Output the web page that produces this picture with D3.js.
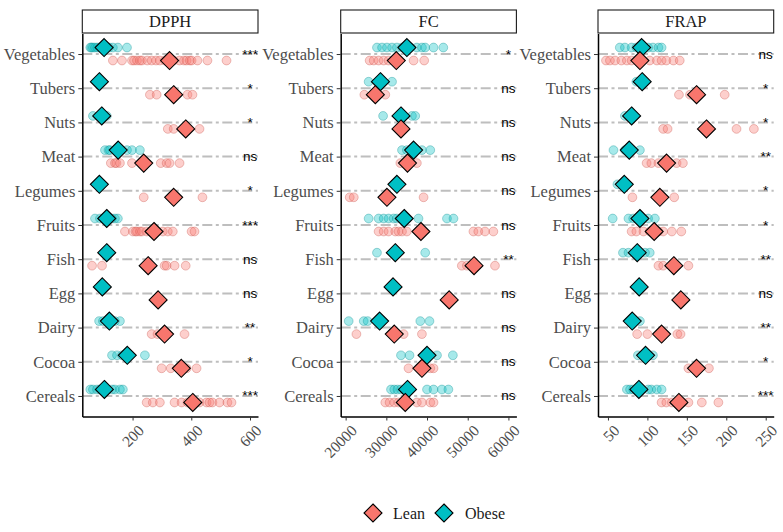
<!DOCTYPE html>
<html><head><meta charset="utf-8">
<script src="https://cdn.jsdelivr.net/npm/d3@7"></script>
<style>body{margin:0;background:#fff}</style>
</head><body><svg id="c" width="783" height="532"></svg>
<script>
// ---------------- data ----------------
const categories = ["Vegetables","Tubers","Nuts","Meat","Legumes","Fruits","Fish","Egg","Dairy","Cocoa","Cereals"];
const measures = ["DPPH","FC","FRAP"];
const groups = ["Lean","Obese"];

const dpphObese = [
  [56, 60, 65, 72, 80, 88, 95, 99, 120, 133, 150, 181],
  [80, 92],
  [65, 100, 112],
  [106, 118, 123, 140, 150, 181, 198, 225],
  [82, 90],
  [72, 89, 100, 113, 130, 140, 150],
  [105, 121],
  [96],
  [86, 99, 115, 125, 140, 157],
  [130, 147, 164, 242],
  [56, 65, 79, 89, 99, 113, 130, 140, 157, 167]
];
const dpphLean = [
  [133, 164, 198, 205, 215, 225, 232, 250, 265, 280, 293, 310, 340, 360, 375, 384, 395, 401, 421, 455, 520],
  [259, 282, 387, 404],
  [320, 340, 385, 428],
  [126, 140, 145, 157, 198, 296, 316, 326, 360],
  [238, 345, 438],
  [174, 201, 210, 215, 225, 232, 248, 260, 303, 320, 337, 401, 411],
  [62, 96, 309, 316, 343, 381],
  [286],
  [265, 285, 377],
  [299, 330, 384, 418],
  [248, 269, 293, 343, 367, 387, 428, 452, 462, 472, 496, 523, 537]
];
const dpphObeseMean = [103, 87, 95, 151, 87, 112, 112, 97, 121, 182, 104];
const dpphLeanMean  = [326, 340, 381, 238, 340, 273, 253, 287, 309, 366, 405];
const dpphSig = ["***","*","*","ns","*","***","ns","ns","**","*","***"];

const fcObese = [
  [27700, 28950, 30150, 31400, 32600, 33850, 36000, 37500, 38750, 39550, 41600, 44000],
  [25650, 31400],
  [29200, 36300, 37100],
  [33850, 35050, 38750, 40800],
  [32600],
  [25650, 28100, 29350, 30550, 31800, 32600, 33850, 37900, 44900, 46500],
  [27700, 39550],
  [31650],
  [20750, 24450, 25400, 38350, 40600],
  [33600, 35700, 42450, 46350],
  [31150, 31950, 32750, 33600, 40000, 41600, 43650, 45250]
];
const fcLean = [
  [25900, 26900, 28100, 29350, 30550, 32200, 36700, 39300],
  [24600, 29750],
  [33600],
  [33450, 37500],
  [21000, 22000, 39150],
  [28100, 29350, 30550, 32200, 33000, 33850, 35050, 51400, 52600, 54250, 56300],
  [48550, 49800, 56700],
  [45450],
  [22650, 34250, 38750],
  [35450, 40800, 41600],
  [29750, 30800, 31950, 33000, 37500, 38750, 40800, 41600]
];
const fcObeseMean = [35050, 28550, 33600, 36700, 32600, 34400, 32200, 31650, 28350, 40000, 35200];
const fcLeanMean  = [32450, 27300, 33600, 35200, 30150, 38500, 51550, 45450, 31950, 38750, 34650];
const fcSig = ["*","ns","ns","ns","ns","ns","**","ns","ns","ns","ns"];

const frapObese = [
  [65, 71.5, 80, 86, 92, 101, 107, 114, 118],
  [86, 93],
  [71.5, 80],
  [57, 71.5, 77, 90.5],
  [62, 71],
  [56, 76, 82, 88, 92, 101, 109.5],
  [69, 76, 87, 97, 103],
  [89.6],
  [81, 90.5],
  [88, 98, 107],
  [74, 78, 82, 89, 101, 105, 112, 118]
];
const frapLean = [
  [47.5, 52.5, 59, 67, 74, 80, 90, 103, 112, 118, 124, 133, 141],
  [140, 154, 198],
  [120, 125.6, 213, 235],
  [99, 105, 114, 125, 137, 145],
  [81, 134],
  [80, 86, 95, 103, 109, 114, 120, 131, 143],
  [114, 120, 152],
  [142.4],
  [87, 100, 138, 142],
  [152, 162, 178],
  [118, 124, 131, 140, 145, 152, 169, 190]
];
const frapObeseMean = [92.7, 93.4, 80, 77, 70.7, 90.5, 87.1, 89.6, 80.8, 97.7, 89.2];
const frapLeanMean  = [90.5, 162.3, 174.9, 124.3, 115.8, 108.6, 133.5, 142.4, 118, 162.3, 139.9];
const frapSig = ["ns","*","*","**","*","*","**","ns","**","*","***"];

const dpphTicks = [200, 400, 600];
const fcTicks = [20000, 30000, 40000, 50000, 60000];
const frapTicks = [50, 100, 150, 200, 250];
const sigPosition = [600, 60000, 250];

// ---------------- layout ----------------
const W = 783, H = 532;
const panelLefts = [82.3, 340.7, 598];
const panelW = 175.7;
const stripTop = 10, plotTop = 33.5, plotBottom = 416.5;
const colors = {Lean: "#F8766D", Obese: "#00BFC4"};
const strokeCol = {Lean: "#c9534b", Obese: "#0a8f93"};
const serif = "'Liberation Serif', 'Times New Roman', serif";
const sans = "'Liberation Sans', Arial, sans-serif";

const panels = [
  {name: measures[0], lean: dpphLean, obese: dpphObese, leanMean: dpphLeanMean, obeseMean: dpphObeseMean, sig: dpphSig, ticks: dpphTicks, sx: sigPosition[0]},
  {name: measures[1], lean: fcLean, obese: fcObese, leanMean: fcLeanMean, obeseMean: fcObeseMean, sig: fcSig, ticks: fcTicks, sx: sigPosition[1]},
  {name: measures[2], lean: frapLean, obese: frapObese, leanMean: frapLeanMean, obeseMean: frapObeseMean, sig: frapSig, ticks: frapTicks, sx: sigPosition[2]}
];

const svg = d3.select("#c");
svg.append("rect").attr("width", W).attr("height", H).attr("fill", "#fff");

const diamond = r => `M0,${-r}L${r},0L0,${r}L${-r},0Z`;

panels.forEach((p, pi) => {
  const L = panelLefts[pi], R = L + panelW;
  const all = [].concat(...p.lean, ...p.obese, p.leanMean, p.obeseMean, [p.sx]);
  const [mn, mx] = d3.extent(all);
  const pad = (mx - mn) * 0.05;
  const x = d3.scaleLinear().domain([mn - pad, mx + pad]).range([L, R]);
  const y = d3.scalePoint().domain(categories).range([plotTop, plotBottom]).padding(0.6);
  const off = y.step() * 0.19;
  const g = svg.append("g");

  // strip
  g.append("rect").attr("x", L).attr("y", stripTop).attr("width", panelW).attr("height", plotTop - stripTop - 0.5)
    .attr("fill", "#fff").attr("stroke", "#1a1a1a").attr("stroke-width", 1.1);
  g.append("text").attr("x", (L + R) / 2).attr("y", (stripTop + plotTop) / 2).attr("text-anchor", "middle")
    .attr("dominant-baseline", "central").attr("font-family", serif).attr("font-size", 16.5).attr("fill", "#1a1a1a").text(p.name);

  // dashed reference lines
  g.selectAll("line.ref").data(categories).join("line").attr("class", "ref")
    .attr("x1", L).attr("x2", R).attr("y1", d => y(d)).attr("y2", d => y(d))
    .attr("stroke", "#bebebe").attr("stroke-width", 2).attr("stroke-dasharray", "10,3.5,3,3.5");

  // points
  const pts = [];
  categories.forEach((c, ci) => {
    p.obese[ci].forEach(v => pts.push({c, v, grp: "Obese"}));
    p.lean[ci].forEach(v => pts.push({c, v, grp: "Lean"}));
  });
  g.selectAll("circle.pt").data(pts).join("circle").attr("class", "pt")
    .attr("cx", d => x(d.v)).attr("cy", d => y(d.c) + (d.grp === "Obese" ? -off : off)).attr("r", 4.4)
    .attr("fill", d => colors[d.grp]).attr("fill-opacity", 0.35)
    .attr("stroke", d => strokeCol[d.grp]).attr("stroke-opacity", 0.45).attr("stroke-width", 0.8);

  // significance labels
  g.selectAll("text.sig").data(categories).join("text").attr("class", "sig")
    .attr("x", x(p.sx)).attr("y", d => y(d)).attr("text-anchor", "middle").attr("dominant-baseline", "central")
    .attr("font-family", sans).attr("font-size", 13.5).attr("fill", "#000")
    .text((d, i) => p.sig[i]);

  // means (diamonds)
  const means = [];
  categories.forEach((c, ci) => {
    means.push({c, v: p.obeseMean[ci], grp: "Obese"});
    means.push({c, v: p.leanMean[ci], grp: "Lean"});
  });
  g.selectAll("path.mean").data(means).join("path").attr("class", "mean")
    .attr("d", diamond(9))
    .attr("transform", d => `translate(${x(d.v)},${y(d.c) + (d.grp === "Obese" ? -off : off)})`)
    .attr("fill", d => colors[d.grp]).attr("stroke", "#000").attr("stroke-width", 1.1);

  // axes
  const ax = g.append("g").attr("transform", `translate(0,${plotBottom})`)
    .call(d3.axisBottom(x).tickValues(p.ticks).tickSize(4).tickSizeOuter(0).tickFormat(d3.format("d")));
  ax.select(".domain").attr("stroke", "#000").attr("stroke-width", 1.5);
  ax.selectAll(".tick line").attr("stroke", "#333").attr("stroke-width", 1);
  ax.selectAll(".tick text").attr("x", 0).attr("y", 0).attr("dy", null)
    .attr("transform", "translate(4,7) rotate(-45)").attr("text-anchor", "end").attr("dominant-baseline", "hanging")
    .attr("font-family", serif).attr("font-size", 15.5).attr("fill", "#4d4d4d");

  const ay = g.append("g").attr("transform", `translate(${L},0)`)
    .call(d3.axisLeft(y).tickSize(4).tickSizeOuter(0).tickPadding(3));
  ay.select(".domain").attr("stroke", "#000").attr("stroke-width", 1.5);
  ay.selectAll(".tick line").attr("stroke", "#333").attr("stroke-width", 1);
  ay.selectAll(".tick text").attr("font-family", serif).attr("font-size", 16.5).attr("fill", "#4d4d4d");
});

// legend
const legY = 513;
const leg = svg.append("g");
const legItems = [{grp: groups[0], dx: 373, tx: 393}, {grp: groups[1], dx: 444, tx: 465}];
legItems.forEach(it => {
  leg.append("path").attr("d", diamond(9)).attr("transform", `translate(${it.dx},${legY})`)
    .attr("fill", colors[it.grp]).attr("stroke", "#000").attr("stroke-width", 1.1);
  leg.append("text").attr("x", it.tx).attr("y", legY).attr("dominant-baseline", "central")
    .attr("font-family", serif).attr("font-size", 16).attr("fill", "#1a1a1a").text(it.grp);
});
</script>
</body></html>
